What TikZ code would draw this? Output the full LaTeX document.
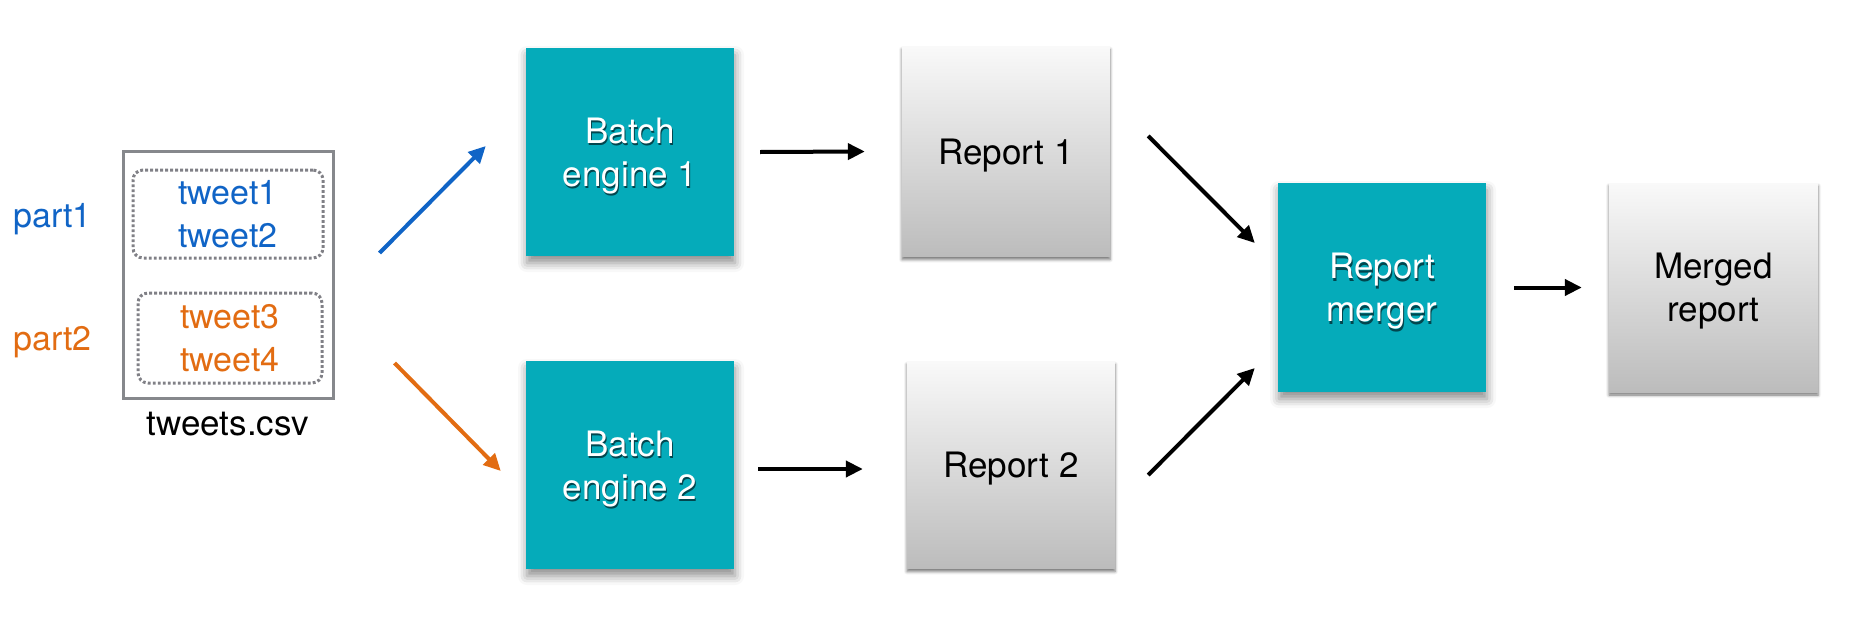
\documentclass[tikz,border=0pt]{standalone}
\usepackage{fontspec}
\setmainfont{TeX Gyre Heros}
\usetikzlibrary{arrows.meta,shadows.blur,calc}
\definecolor{tealbox}{RGB}{5,171,186}
\definecolor{tealshadow}{RGB}{2,70,78}
\definecolor{bluetxt}{RGB}{16,100,198}
\definecolor{orangetxt}{RGB}{226,108,18}
\definecolor{csvgray}{RGB}{134,136,140}
\definecolor{dotgray}{RGB}{128,128,134}
\definecolor{reptop}{RGB}{249,249,249}
\definecolor{repbot}{RGB}{188,188,188}
\newcommand{\shtxt}[1]{\makebox[0pt][l]{\hspace{1pt}\raisebox{-2.5pt}{\textcolor{tealshadow}{#1}}}#1}
\tikzset{
  bigfont/.style={font=\fontsize{35}{43}\selectfont},
  sidefont/.style={font=\fontsize{34}{43}\selectfont},
  engine/.style={bigfont, fill=tealbox, minimum width=208pt, minimum height=208pt,
    inner sep=0pt, text=white, align=center, text depth=0pt,
    blur shadow={shadow xshift=1pt, shadow yshift=-7pt, shadow blur radius=9pt, shadow opacity=45}},
  report/.style={bigfont, top color=reptop, bottom color=repbot, minimum width=208pt,
    inner sep=0pt, text=black, align=center, text depth=0pt,
    blur shadow={shadow xshift=0pt, shadow yshift=-3pt, shadow blur radius=3pt, shadow opacity=55}},
  csvbox/.style={draw=csvgray, line width=3pt, minimum width=210pt, minimum height=247pt, inner sep=0pt},
  dotbox/.style={sidefont, draw=dotgray, line width=3pt, dash pattern=on 2.8pt off 2.2pt,
    rounded corners=10pt, inner sep=0pt, align=center},
  arr/.style={line width=4pt, -{Triangle[length=17pt,width=16pt]}},
}
\begin{document}
\begin{tikzpicture}[x=1pt,y=-1pt]
\useasboundingbox (0,0) rectangle (1861,616);
% input file
\node[csvbox] (csv) at (228,274.5) {};
\node[dotbox, text=bluetxt, minimum width=190pt, minimum height=88pt] (p1) at (228,214) {tweet1\\tweet2};
\node[dotbox, text=orangetxt, minimum width=184pt, minimum height=90pt] (p2) at (230,338) {tweet3\\tweet4};
\node[bigfont, anchor=base] (csvlbl) at (228,435) {tweets.csv};
\node[sidefont, text=bluetxt, anchor=base west, inner sep=0pt] (l1) at (13,227) {part1};
\node[sidefont, text=orangetxt, anchor=base west, inner sep=0pt] (l2) at (13,350) {part2};
% engines and reports
\node[engine] (b1) at (630,152) {\shtxt{Batch}\\\shtxt{engine 1}};
\node[engine] (b2) at (630,465) {\shtxt{Batch}\\\shtxt{engine 2}};
\node[report, minimum height=210pt] (r1) at (1006,151.5) {Report 1};
\node[report, minimum height=207pt] (r2) at (1011,465) {Report 2};
\node[engine, minimum height=209pt] (m) at (1382,287.5) {\shtxt{Report}\\\shtxt{merger}};
\node[report, minimum width=209pt, minimum height=209pt] (mr) at (1713.5,287.5) {Merged\\report};
% connectors
\draw[arr, bluetxt] ([xshift=45pt,yshift=21.5pt]csv.east) -- ([xshift=-40pt,yshift=6pt]b1.west);
\draw[arr, orangetxt] ([xshift=60pt,yshift=-88.5pt]csv.east) -- ([xshift=-25pt,yshift=-6pt]b2.west);
\draw[arr] ([xshift=26pt]b1.east) -- ([xshift=-37pt]r1.west);
\draw[arr] ([xshift=24pt,yshift=-4pt]b2.east) -- ([xshift=-44pt,yshift=-4pt]r2.west);
\draw[arr] ([xshift=38pt,yshift=15.5pt]r1.east) -- ([xshift=-23pt,yshift=44.5pt]m.west);
\draw[arr] ([xshift=33pt,yshift=-10pt]r2.east) -- ([xshift=-23pt,yshift=-80.5pt]m.west);
\draw[arr] ([xshift=28pt]m.east) -- ([xshift=-27pt]mr.west);
\end{tikzpicture}
\end{document}
